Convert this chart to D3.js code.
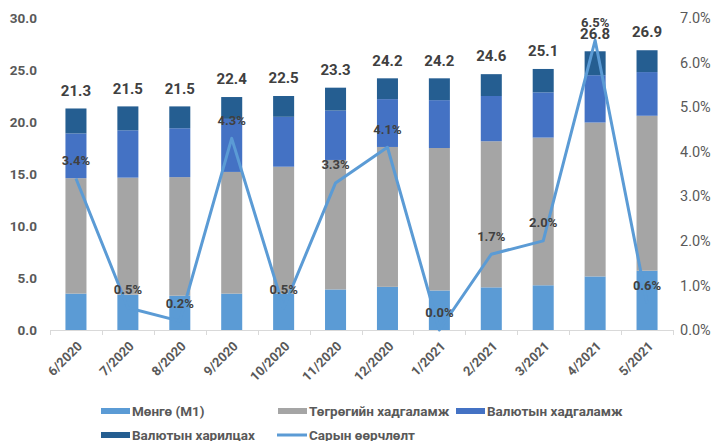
<!DOCTYPE html>
<html><head><meta charset="utf-8">
<script src="https://cdn.jsdelivr.net/npm/d3@7"></script>
<style>
body{margin:0;background:#fff;}
svg{display:block;font-family:Roboto, "Noto Sans", sans-serif;}
</style></head>
<body><svg id="c" width="715" height="441"></svg>
<script>
const categories = ["6/2020","7/2020","8/2020","9/2020","10/2020","11/2020","12/2020","1/2021","2/2021","3/2021","4/2021","5/2021"];
const money = [3.5, 3.4, 3.3, 3.5, 3.5, 3.9, 4.15, 3.8, 4.1, 4.3, 5.15, 5.7];
const mntDeposit = [11.1, 11.25, 11.4, 11.7, 12.2, 12.45, 13.45, 13.7, 14.05, 14.2, 14.8, 14.9];
const fxDeposit = [4.3, 4.55, 4.7, 5.1, 4.8, 4.75, 4.6, 4.6, 4.35, 4.35, 4.55, 4.2];
const fxCurrent = [2.4, 2.3, 2.1, 2.1, 2.0, 2.2, 2.0, 2.1, 2.1, 2.25, 2.3, 2.1];
const totals = [21.3, 21.5, 21.5, 22.4, 22.5, 23.3, 24.2, 24.2, 24.6, 25.1, 26.8, 26.9];
const monthlyChange = [3.4, 0.5, 0.2, 4.3, 0.5, 3.3, 4.1, 0.0, 1.7, 2.0, 6.5, 0.6];
const leftTicks = [0, 5, 10, 15, 20, 25, 30];
const rightTicks = [0, 1, 2, 3, 4, 5, 6, 7];
const seriesNames = ["Мөнгө (М1)", "Төгрөгийн хадгаламж", "Валютын хадгаламж", "Валютын харилцах", "Сарын өөрчлөлт"];
const colors = ["#5B9BD5", "#A5A5A5", "#4472C4", "#255E91", "#5B9BD5"];

const svg = d3.select("#c");
const x = d3.scaleBand().domain(categories).range([50, 673]).paddingInner(0.595).paddingOuter(0.2975);
const yL = d3.scaleLinear().domain([0, 30]).range([330, 18]);
const yR = d3.scaleLinear().domain([0, 7]).range([330, 18]);

const rows = categories.map((c, i) => ({cat: c, s0: money[i], s1: mntDeposit[i], s2: fxDeposit[i], s3: fxCurrent[i]}));
const stack = d3.stack().keys(["s0","s1","s2","s3"])(rows);

// axes text
svg.append("g").selectAll("text").data(leftTicks).join("text")
  .attr("x", 37).attr("y", d => yL(d)).attr("dy", "0.35em")
  .attr("text-anchor", "end").attr("font-size", 13.5).attr("font-weight", "bold").attr("fill", "#595959")
  .text(d => d3.format(".1f")(d));
svg.append("g").selectAll("text").data(rightTicks).join("text")
  .attr("x", 680).attr("y", d => yR(d)).attr("dy", "0.35em")
  .attr("text-anchor", "start").attr("font-size", 14.5).attr("fill", "#595959")
  .text(d => d3.format(".1f")(d) + "%");

// bars
svg.append("g").selectAll("g").data(stack).join("g")
  .attr("fill", (d, i) => colors[i])
  .selectAll("rect").data(d => d).join("rect")
  .attr("x", d => x(d.data.cat)).attr("width", x.bandwidth())
  .attr("y", d => yL(d[1])).attr("height", d => yL(d[0]) - yL(d[1]));

// x axis
const ax = svg.append("g");
ax.append("line").attr("x1", 50).attr("x2", 673).attr("y1", 330.5).attr("y2", 330.5).attr("stroke", "#D9D9D9");
const bounds = categories.map(c => x(c) - x.step() * x.paddingInner() / 2).concat([673]);
ax.selectAll("line.t").data(bounds).join("line").attr("class", "t")
  .attr("x1", d => Math.round(d) + 0.5).attr("x2", d => Math.round(d) + 0.5)
  .attr("y1", 330).attr("y2", 335).attr("stroke", "#D9D9D9");
ax.selectAll("text").data(categories).join("text")
  .attr("transform", d => `translate(${x(d) + x.bandwidth()/2 + 7},${347}) rotate(-45)`)
  .attr("text-anchor", "end").attr("font-size", 13).attr("font-weight", "bold").attr("fill", "#595959")
  .text(d => d);

// line
const cx = c => x(c) + x.bandwidth() / 2;
svg.append("path").datum(monthlyChange)
  .attr("fill", "none").attr("stroke", colors[4]).attr("stroke-width", 3).attr("stroke-linejoin", "round")
  .attr("d", d3.line().x((d, i) => cx(categories[i])).y(d => yR(d)));

// labels
svg.append("g").selectAll("text").data(totals).join("text")
  .attr("x", (d, i) => cx(categories[i])).attr("y", d => yL(d) - 18).attr("dy", "0.35em")
  .attr("text-anchor", "middle").attr("font-size", 15).attr("font-weight", "bold").attr("fill", "#404040")
  .text(d => d3.format(".1f")(d));
svg.append("g").selectAll("text").data(monthlyChange).join("text")
  .attr("x", (d, i) => cx(categories[i])).attr("y", d => yR(d) - 18).attr("dy", "0.35em")
  .attr("text-anchor", "middle").attr("font-size", 13).attr("font-weight", "bold").attr("fill", "#404040")
  .text(d => d3.format(".1f")(d) + "%");

// legend
const legendPos = [[101, 411], [278, 411], [456, 411], [101, 435], [277, 435]];
const lg = svg.append("g");
seriesNames.forEach((name, i) => {
  const [lx, ly] = legendPos[i];
  if (i < 4) {
    lg.append("rect").attr("x", lx).attr("y", ly - 3).attr("width", 29).attr("height", 6).attr("fill", colors[i]);
  } else {
    lg.append("line").attr("x1", lx).attr("x2", lx + 30).attr("y1", ly).attr("y2", ly)
      .attr("stroke", colors[i]).attr("stroke-width", 3);
  }
  lg.append("text").attr("x", lx + (i < 4 ? 31 : 32)).attr("y", ly).attr("dy", "0.35em")
    .attr("font-size", 13.5).attr("font-weight", "bold").attr("fill", "#595959").text(name);
});
</script></body></html>
